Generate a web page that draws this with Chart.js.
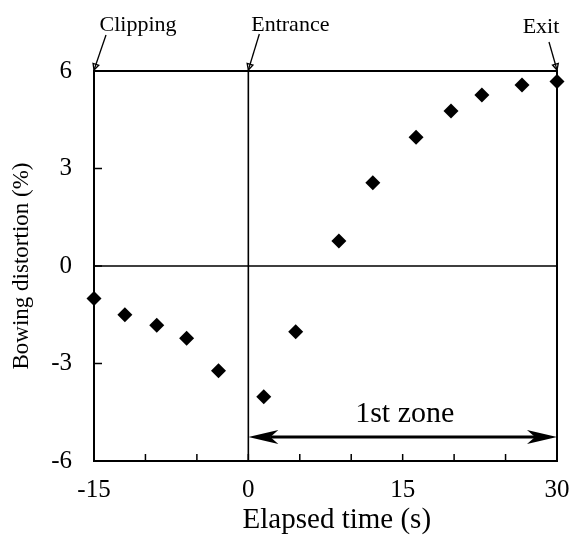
<!DOCTYPE html>
<html>
<head>
<meta charset="utf-8">
<script src="https://cdn.jsdelivr.net/npm/chart.js@4/dist/chart.umd.min.js"></script>
<style>
  html, body { margin: 0; padding: 0; background: #fff; }
  #wrap { width: 573px; height: 538px; }
</style>
</head>
<body>
<div id="wrap"><canvas id="c" width="573" height="538"></canvas></div>
<script>
// ---- data ----
const elapsedTime = [-15, -12, -8.9, -6, -2.9, 1.5, 4.6, 8.8, 12.1, 16.3, 19.7, 22.7, 26.6, 30];
const bowingDistortion = [-1.0, -1.5, -1.82, -2.22, -3.22, -4.02, -2.02, 0.77, 2.56, 3.96, 4.77, 5.26, 5.57, 5.68];
const xTickLabels = [-15, 0, 15, 30];
const yTickLabels = [-6, -3, 0, 3, 6];
const xTitle = 'Elapsed time (s)';
const yTitle = 'Bowing distortion (%)';
const markers = [
  { text: 'Clipping', x: -15 },
  { text: 'Entrance', x: 0 },
  { text: 'Exit', x: 30 }
];
const zoneLabel = '1st zone';
const zoneStart = 0, zoneEnd = 30, zoneY = -5.26;

const points = elapsedTime.map((t, i) => ({ x: t, y: bowingDistortion[i] }));
const SERIF = '"Liberation Serif", "Times New Roman", serif';

const framePlugin = {
  id: 'frame',
  afterDatasetsDraw(chart) {
    const { ctx, chartArea: a, scales: { x, y } } = chart;
    ctx.save();
    ctx.strokeStyle = '#000';
    // zero lines
    ctx.lineWidth = 1.6;
    const x0 = x.getPixelForValue(0), y0 = y.getPixelForValue(0);
    ctx.beginPath();
    ctx.moveTo(x0, a.top); ctx.lineTo(x0, a.bottom);
    ctx.moveTo(a.left, y0); ctx.lineTo(a.right, y0);
    ctx.stroke();
    // frame
    ctx.lineWidth = 2;
    ctx.strokeRect(a.left, a.top, a.right - a.left, a.bottom - a.top);
    // inward ticks
    ctx.lineWidth = 1.5;
    ctx.beginPath();
    x.ticks.forEach(t => {
      const px = x.getPixelForValue(t.value);
      ctx.moveTo(px, a.bottom); ctx.lineTo(px, a.bottom - 7);
    });
    y.ticks.forEach(t => {
      const py = y.getPixelForValue(t.value);
      ctx.moveTo(a.left, py); ctx.lineTo(a.left + 8, py);
    });
    ctx.stroke();

    // marker pointers
    const offs = {
      'Clipping': { tail: [12, -36], label: [44, -40] },
      'Entrance': { tail: [11, -37], label: [42, -40] },
      'Exit': { tail: [-8, -29], label: [-16, -38] }
    };
    ctx.font = '22px ' + SERIF;
    ctx.fillStyle = '#000';
    ctx.textAlign = 'center';
    ctx.textBaseline = 'alphabetic';
    markers.forEach(m => {
      const tx = x.getPixelForValue(m.x), ty = y.getPixelForValue(6);
      const o = offs[m.text];
      const sx = tx + o.tail[0], sy = ty + o.tail[1];
      ctx.lineWidth = 1.3;
      ctx.beginPath(); ctx.moveTo(sx, sy); ctx.lineTo(tx, ty - 1); ctx.stroke();
      const ang = Math.atan2(ty - sy, tx - sx);
      const hl = 6, hw = 3;
      ctx.beginPath();
      ctx.moveTo(tx, ty - 1);
      ctx.lineTo(tx - hl * Math.cos(ang) + hw * Math.sin(ang), ty - 1 - hl * Math.sin(ang) - hw * Math.cos(ang));
      ctx.lineTo(tx - hl * Math.cos(ang) - hw * Math.sin(ang), ty - 1 - hl * Math.sin(ang) + hw * Math.cos(ang));
      ctx.closePath();
      ctx.stroke();
      ctx.fillText(m.text, tx + o.label[0], ty + o.label[1]);
    });

    // zone double arrow
    const ax1 = x.getPixelForValue(zoneStart), ax2 = x.getPixelForValue(zoneEnd);
    const ay = y.getPixelForValue(zoneY);
    const L = 30, W = 7, N = 22;
    ctx.lineWidth = 3;
    ctx.beginPath(); ctx.moveTo(ax1 + N, ay); ctx.lineTo(ax2 - N, ay); ctx.stroke();
    ctx.beginPath();
    ctx.moveTo(ax1, ay); ctx.lineTo(ax1 + L, ay - W); ctx.lineTo(ax1 + N, ay); ctx.lineTo(ax1 + L, ay + W); ctx.closePath();
    ctx.moveTo(ax2, ay); ctx.lineTo(ax2 - L, ay - W); ctx.lineTo(ax2 - N, ay); ctx.lineTo(ax2 - L, ay + W); ctx.closePath();
    ctx.fill();
    ctx.font = '30px ' + SERIF;
    ctx.fillText(zoneLabel, x.getPixelForValue(15.2), ay - 15);

    // x axis title
    ctx.font = '29px ' + SERIF;
    ctx.fillText(xTitle, x.getPixelForValue(8.6), 528);
    ctx.restore();
  }
};

new Chart(document.getElementById('c'), {
  type: 'scatter',
  data: {
    datasets: [{
      data: points,
      pointStyle: 'rectRot',
      radius: 7.5,
      hoverRadius: 7.5,
      backgroundColor: '#000',
      borderColor: '#000',
      borderWidth: 0,
      clip: false
    }]
  },
  options: {
    responsive: false,
    animation: false,
    events: [],
    layout: { padding: { left: 0, top: 71, right: 16, bottom: 0 } },
    plugins: { legend: { display: false }, tooltip: { enabled: false } },
    scales: {
      x: {
        type: 'linear', min: -15, max: 30,
        afterBuildTicks(s) { s.ticks = [-15, -10, -5, 0, 5, 10, 15, 20, 25, 30].map(v => ({ value: v })); },
        afterFit(s) { s.height = 77; s.paddingLeft = 0; s.paddingRight = 0; },
        grid: { display: false },
        border: { display: false },
        ticks: {
          autoSkip: false, maxRotation: 0, padding: 6, color: '#000',
          font: { family: SERIF, size: 25 },
          callback: v => xTickLabels.includes(v) ? String(v) : ''
        },
        title: { display: false }
      },
      y: {
        type: 'linear', min: -6, max: 6,
        afterBuildTicks(s) { s.ticks = yTickLabels.map(v => ({ value: v })); },
        afterFit(s) { s.width = 94; s.paddingTop = 0; s.paddingBottom = 0; },
        grid: { display: false },
        border: { display: false },
        ticks: {
          padding: 14, color: '#000',
          font: { family: SERIF, size: 25 },
          callback: v => String(v)
        },
        title: { display: true, text: yTitle, color: '#000', font: { family: SERIF, size: 23 }, padding: { top: 8, bottom: 8 } }
      }
    }
  },
  plugins: [framePlugin]
});
</script>
</body>
</html>
